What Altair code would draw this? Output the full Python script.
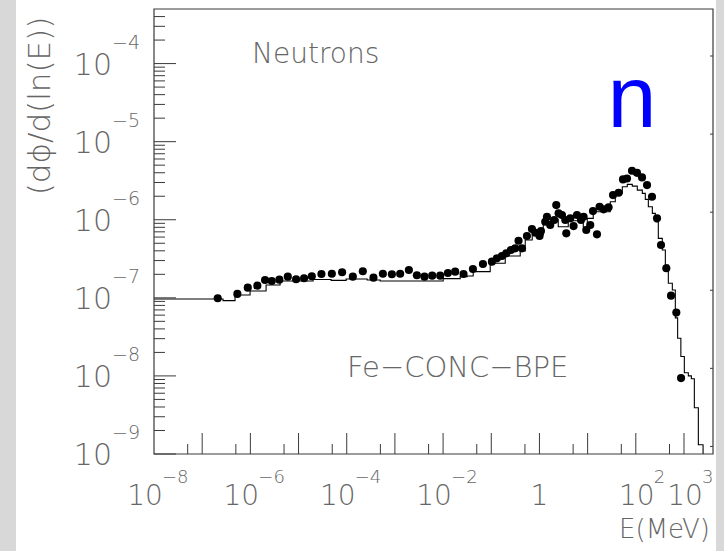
import altair as alt
import pandas as pd

# ---------------- data (log10 values) ----------------
# simulated spectrum, histogram: lower bin edges log10(E/MeV) and bin level log10(phi)
hist_log_e = [-8.000, -6.567, -6.318, -6.006, -5.674, -5.383, -4.698, -4.324, -4.012, -3.576,
              -3.306, -1.998, -1.645, -1.499, -1.375, -1.022, -0.710, -0.399, -0.295, -0.150,
              0.079, 0.224, 0.390, 0.598, 0.910, 0.993, 1.117, 1.470, 1.574, 1.720,
              1.823, 1.927, 2.031, 2.135, 2.197, 2.260, 2.343, 2.405, 2.467, 2.550,
              2.613, 2.675, 2.758, 2.820, 2.868, 2.935, 3.007, 3.090, 3.153, 3.215, 3.298]
hist_log_phi = [-7.014, -7.036, -6.963, -6.912, -6.835, -6.784, -6.765, -6.777, -6.758, -6.771,
                -6.784, -6.754, -6.729, -6.720, -6.665, -6.558, -6.464, -6.400, -6.260, -6.196,
                -6.046, -5.995, -6.090, -6.013, -6.097, -5.982, -5.898, -5.770, -5.662, -5.578,
                -5.547, -5.569, -5.620, -5.662, -5.739, -5.834, -5.918, -6.026, -6.238, -6.387,
                -6.579, -6.813, -6.899, -7.257, -7.517, -7.752, -7.960, -7.999, -8.037, -8.408, -8.881]
hist_end_log_e = 3.396

# measured spectrum (dots)
dot_log_e = [-6.677, -6.270, -6.054, -5.855, -5.695, -5.556, -5.398, -5.223, -5.051, -4.885,
             -4.725, -4.525, -4.309, -4.096, -3.873, -3.666, -3.445, -3.250, -3.063, -2.891,
             -2.710, -2.544, -2.386, -2.226, -2.060, -1.900, -1.749, -1.576, -1.381, -1.173,
             -0.987, -0.883, -0.779, -0.689, -0.592, -0.503, -0.434, -0.363, -0.260, -0.156,
             -0.087, 0.002, 0.031, 0.120, 0.156, 0.224, 0.307, 0.349, 0.397, 0.467,
             0.536, 0.557, 0.640, 0.708, 0.779, 0.862, 0.916, 0.972, 1.055, 1.111,
             1.194, 1.248, 1.331, 1.435, 1.527, 1.643, 1.734, 1.817, 1.921, 2.025,
             2.129, 2.233, 2.336, 2.440, 2.523, 2.633, 2.731, 2.841, 2.939]
dot_log_phi = [-7.005, -6.950, -6.870, -6.844, -6.771, -6.784, -6.767, -6.729, -6.762, -6.749,
               -6.724, -6.694, -6.691, -6.673, -6.729, -6.660, -6.742, -6.691, -6.698, -6.691,
               -6.643, -6.711, -6.729, -6.716, -6.716, -6.682, -6.665, -6.694, -6.630, -6.566,
               -6.537, -6.494, -6.464, -6.430, -6.387, -6.366, -6.269, -6.366, -6.208, -6.119,
               -6.166, -6.208, -6.145, -6.026, -5.962, -6.068, -6.004, -5.812, -5.918, -5.940,
               -6.004, -6.174, -5.982, -6.081, -5.940, -6.004, -5.962, -6.132, -6.068, -5.889,
               -6.187, -5.834, -5.867, -5.841, -5.684, -5.655, -5.483, -5.471, -5.373, -5.399,
               -5.458, -5.556, -5.706, -5.982, -6.324, -6.621, -6.972, -7.189, -8.028]

x_label_exp = [-8, -6, -4, -2, 0, 2, 3]
y_label_exp = [-9, -8, -7, -6, -5, -4]

x_title = "E(MeV)"
y_title = "(dϕ/d(ln(E))"
label_top = "Neutrons"
label_bottom = "Fe−CONC−BPE"
particle = "n"

# ---------------- layout / style ----------------
W, H = 559, 445
FONT = "DejaVu Sans"
GRAY = "#666666"
INK = "#3a3a3a"

xs = alt.Scale(type="log", domain=[1e-8, 4e3])
ys = alt.Scale(type="log", domain=[1e-9, 5e-4])

hist = pd.DataFrame({
    "E": [10 ** v for v in hist_log_e] + [10 ** hist_end_log_e],
    "phi": [10 ** v for v in hist_log_phi] + [1e-11],
})
dots = pd.DataFrame({"E": [10 ** v for v in dot_log_e], "phi": [10 ** v for v in dot_log_phi]})

x_major = pd.DataFrame({"E": [10.0 ** k for k in range(-7, 4)]})
x_minor = pd.DataFrame({"E": [5 * 10.0 ** k for k in range(-8, 3)]})
y_major = pd.DataFrame({"phi": [10.0 ** k for k in range(-9, -3)]})
y_minor = pd.DataFrame({"phi": [m * 10.0 ** k for k in range(-9, -3) for m in range(2, 10)
                                if m * 10.0 ** k <= 4.01e-4]})
right_ticks = pd.DataFrame({"phi": [1.25 * 10.0 ** k for k in range(-9, -3)]})


def sup(e):
    return str(e).replace("-", "−")


xl = pd.DataFrame({
    "E": [10.0 ** e for e in x_label_exp],
    "base": ["1" if e == 0 else "10" for e in x_label_exp],
    "exp": ["" if e == 0 else sup(e) for e in x_label_exp],
    "kind": ["zero" if e == 0 else ("neg" if e < 0 else "pos") for e in x_label_exp],
})
yl = pd.DataFrame({
    "phi": [10.0 ** e for e in y_label_exp],
    "base": ["10"] * len(y_label_exp),
    "exp": [sup(e) for e in y_label_exp],
})
one = pd.DataFrame({"a": [0]})

X = lambda: alt.X("E:Q", scale=xs, axis=None)
Y = lambda: alt.Y("phi:Q", scale=ys, axis=None)

panel = alt.Chart(one).mark_rect(color="white").encode(
    x=alt.value(-138), x2=alt.value(562), y=alt.value(-9), y2=alt.value(542))

hist_line = alt.Chart(hist).mark_line(interpolate="step-after", color="black",
                                      strokeWidth=1.1, clip=True).encode(x=X(), y=Y())
dot_layer = alt.Chart(dots).mark_circle(size=66, color="black", opacity=1).encode(x=X(), y=Y())

xt_major = alt.Chart(x_major).mark_rule(color=INK, strokeWidth=1).encode(
    x=X(), y=alt.value(H), y2=alt.value(H - 21))
xt_minor = alt.Chart(x_minor).mark_rule(color=INK, strokeWidth=1).encode(
    x=X(), y=alt.value(H), y2=alt.value(H - 10))
yt_major = alt.Chart(y_major).mark_rule(color=INK, strokeWidth=1).encode(
    y=Y(), x=alt.value(0), x2=alt.value(22))
yt_minor = alt.Chart(y_minor).mark_rule(color=INK, strokeWidth=1).encode(
    y=Y(), x=alt.value(0), x2=alt.value(11))
yt_right = alt.Chart(right_ticks).mark_rule(color=INK, strokeWidth=1).encode(
    y=Y(), x=alt.value(W - 3), x2=alt.value(W))

frame = alt.Chart(one).mark_rect(filled=False, stroke=INK, strokeWidth=1.2).encode(
    x=alt.value(0), x2=alt.value(W), y=alt.value(0), y2=alt.value(H))

txt = dict(font=FONT, color=GRAY, fontWeight=200)

xl_layers = []
for kind, bdx, edx in [("neg", -9, 8), ("pos", 1, 18), ("zero", 0, 0)]:
    d = xl[xl["kind"] == kind]
    xl_layers.append(alt.Chart(d).mark_text(align="center", baseline="alphabetic", dx=bdx,
                                            fontSize=28, **txt).encode(
        x=X(), y=alt.value(H + 51), text="base:N"))
    if kind != "zero":
        xl_layers.append(alt.Chart(d).mark_text(align="left", baseline="alphabetic", dx=edx,
                                                fontSize=18, **txt).encode(
            x=X(), y=alt.value(H + 29), text="exp:N"))

yl_base = alt.Chart(yl).mark_text(align="right", baseline="alphabetic", dy=11,
                                  fontSize=30, **txt).encode(
    y=Y(), x=alt.value(-42), text="base:N")
yl_exp = alt.Chart(yl).mark_text(align="left", baseline="alphabetic", dy=-15,
                                 fontSize=19, **txt).encode(
    y=Y(), x=alt.value(-42), text="exp:N")

ytitle = alt.Chart(one).mark_text(angle=270, align="center", baseline="middle",
                                  fontSize=31, **txt).encode(
    x=alt.value(-113), y=alt.value(97), text=alt.value(y_title))
xtitle = alt.Chart(one).mark_text(align="right", baseline="alphabetic",
                                  fontSize=26, **txt).encode(
    x=alt.value(556), y=alt.value(H + 84), text=alt.value(x_title))
t_top = alt.Chart(one).mark_text(align="left", baseline="alphabetic", fontSize=28, **txt).encode(
    x=alt.value(98), y=alt.value(54), text=alt.value(label_top))
t_bot = alt.Chart(one).mark_text(align="left", baseline="alphabetic", fontSize=29, **txt).encode(
    x=alt.value(193), y=alt.value(368), text=alt.value(label_bottom))
t_n = alt.Chart(one).mark_text(align="center", baseline="alphabetic", fontSize=88,
                               font="Liberation Sans", color="#0000ff").encode(
    x=alt.value(478), y=alt.value(118), text=alt.value(particle))

chart = alt.layer(
    panel, hist_line, dot_layer, xt_major, xt_minor, yt_major, yt_minor, yt_right, frame,
    *xl_layers, yl_base, yl_exp, ytitle, xtitle, t_top, t_bot, t_n,
).properties(
    width=W, height=H,
    padding={"left": 154, "top": 9, "right": 11, "bottom": 97},
    autosize=alt.AutoSizeParams(type="none"),
    background="#d8d8d8",
).configure_view(stroke=None)

chart.save("out.html", embed_options={"renderer": "svg", "actions": False})
